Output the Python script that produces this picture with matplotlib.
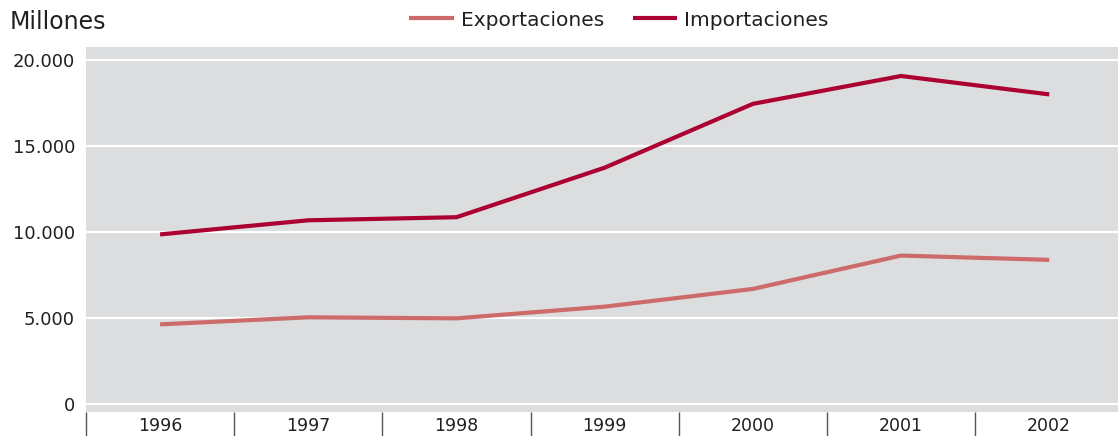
import matplotlib
matplotlib.use("Agg")
import matplotlib.pyplot as plt
from matplotlib.ticker import FixedLocator, NullFormatter

years = ["1996", "1997", "1998", "1999", "2000", "2001", "2002"]
exportaciones = [4630, 5040, 4980, 5660, 6690, 8630, 8380]
importaciones = [9860, 10680, 10860, 13740, 17450, 19070, 18000]
y_ticks = [0, 5000, 10000, 15000, 20000]
y_labels = ["0", "5.000", "10.000", "15.000", "20.000"]

plt.rcParams['font.family'] = ['DejaVu Sans']
text_color = "#231f20"

fig = plt.figure(figsize=(11.18, 4.36), dpi=100)
ax = fig.add_axes([86/1118, (436-412)/436, 1 - 86/1118, (412-47)/436])
ax.set_facecolor("#dcdddf")

x = list(range(len(years)))
ax.plot(x, exportaciones, color="#cd6b6b", lw=3, label="Exportaciones", solid_capstyle="butt", zorder=3)
ax.plot(x, importaciones, color="#ac0033", lw=3, label="Importaciones", solid_capstyle="butt", zorder=3)

ax.set_xlim(-0.5, 6.464)
ax.set_ylim(-465, 20756)

for s in ax.spines.values():
    s.set_visible(False)

ax.set_yticks(y_ticks)
ax.set_yticklabels(y_labels)
ax.tick_params(axis="y", length=0, pad=8, labelsize=13, labelcolor=text_color)
ax.yaxis.grid(True, color="white", lw=1.6)
ax.set_axisbelow(True)

bounds = [i - 0.5 for i in range(len(years))]
ax.xaxis.set_major_locator(FixedLocator(bounds))
ax.xaxis.set_major_formatter(NullFormatter())
ax.tick_params(axis="x", which="major", direction="out", length=18, width=1, color="#555555")
ax.set_xticks(x, minor=True)
ax.set_xticklabels(years, minor=True)
ax.tick_params(axis="x", which="minor", length=0, pad=3.5, labelsize=12.5, labelcolor=text_color)

fig.text(10/1118, 1 - 22/436, "Millones", fontsize=17, color=text_color, va="center", ha="left")

fig.legend(loc="center", bbox_to_anchor=(619/1118, 1 - 20/436), ncol=2, frameon=False,
           fontsize=14.5, handlelength=2.2, handletextpad=0.35, columnspacing=1.45,
           labelcolor=text_color)

fig.savefig("out.png", dpi=100)
